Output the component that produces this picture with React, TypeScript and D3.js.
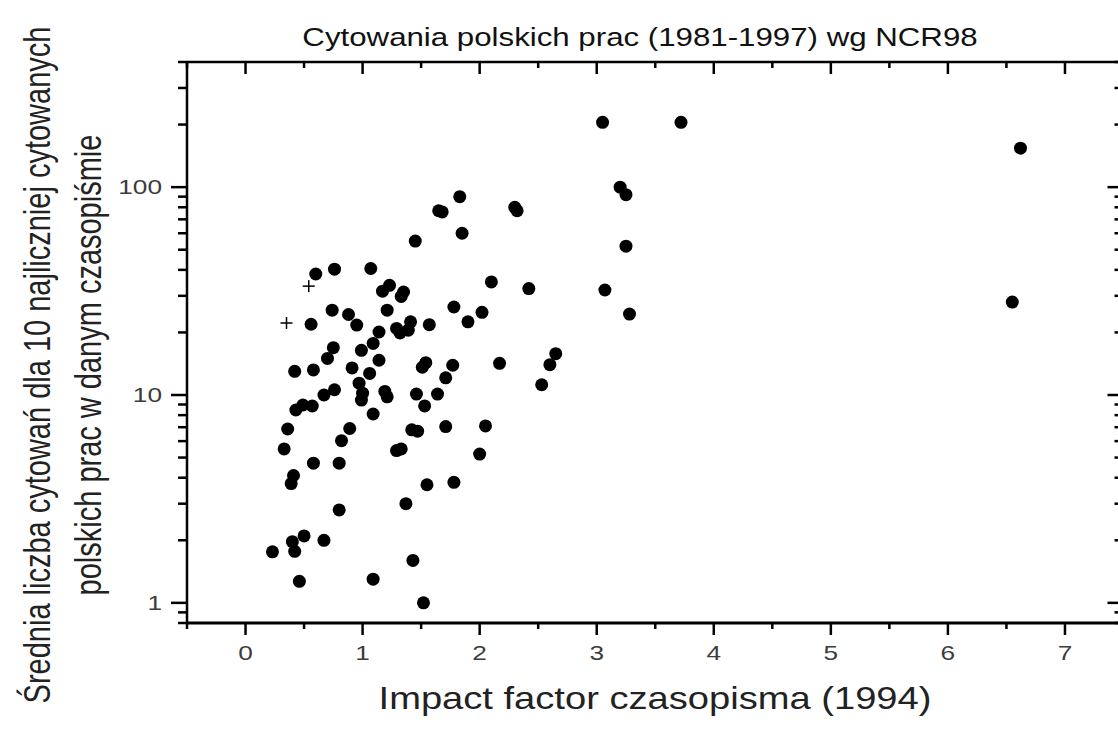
import React from 'react';
import * as d3 from 'd3';

// Impact factor (x) and mean citations (y) for journals — filled dots
const impactFactor = [
  0.60, 0.76, 1.07, 1.17, 1.23, 1.33, 1.35, 1.78, 0.74, 0.88, 1.21, 0.56, 0.95, 1.14, 1.29, 1.32, 1.41, 1.39, 1.57,
  0.75, 1.09, 0.99, 0.70, 1.14, 1.51, 1.54, 1.77, 0.42, 0.58, 0.91, 1.06, 1.71, 0.97, 0.76, 0.67, 1.00, 0.99, 1.19,
  1.21, 1.46, 1.64, 1.53, 0.43, 0.49, 0.57, 1.09, 0.36, 0.89, 1.42, 1.47, 1.71, 0.82, 0.33, 1.29, 1.33,
  1.45, 1.65, 1.68, 1.83, 1.85, 2.30, 2.32, 3.20, 3.25, 3.05, 3.72, 6.62, 3.25,
  2.10, 2.42, 3.07, 3.28, 6.55, 2.02, 1.90, 2.17, 2.65, 2.60, 2.53, 2.05, 2.00,
  0.58, 0.80, 0.41, 0.39, 1.55, 1.78, 1.37, 0.80, 0.50, 0.40, 0.42, 0.67, 0.23, 1.43, 0.46, 1.09, 1.52,
];
const citations = [
  38.2, 40.3, 40.6, 31.6, 33.7, 29.8, 31.3, 26.5, 25.6, 24.4, 25.6, 21.9, 21.7, 20.1, 20.9, 19.9, 22.5, 20.5, 21.8,
  16.9, 17.7, 16.4, 15.0, 14.7, 13.6, 14.3, 13.9, 13.0, 13.2, 13.5, 12.7, 12.1, 11.4, 10.6, 10.0, 10.2, 9.45, 10.4,
  9.8, 10.1, 10.1, 8.86, 8.47, 8.95, 8.85, 8.1, 6.86, 6.9, 6.8, 6.7, 7.05, 6.03, 5.5, 5.4, 5.5,
  55, 77, 76, 90, 60, 80, 77, 100, 92, 205, 205, 154, 52,
  35, 32.5, 32, 24.5, 28, 25, 22.5, 14.2, 15.8, 14, 11.2, 7.1, 5.2,
  4.7, 4.7, 4.1, 3.75, 3.7, 3.8, 3.0, 2.8, 2.1, 1.97, 1.77, 2.0, 1.76, 1.6, 1.27, 1.3, 1.0,
];
// Cross markers
const crossIF = [0.54, 0.35];
const crossCit = [33.4, 22.2];

const xTicks = [0, 1, 2, 3, 4, 5, 6, 7];
const yTicks = [1, 10, 100];

const title = 'Cytowania polskich prac (1981-1997) wg NCR98';
const xTitle = 'Impact factor czasopisma (1994)';
const yTitle1 = 'Średnia liczba cytowań dla 10 najliczniej cytowanych';
const yTitle2 = 'polskich prac w danym czasopiśmie';

export default function App() {
  const W = 1118, H = 738;
  const left = 187, right = 1123.5, top = 62, bottom = 623;
  const x = d3.scaleLinear().domain([-0.5, 7.5]).range([left, right]);
  const y = d3.scaleLog().domain([0.8, 400]).range([bottom, top]);

  const xMinor = d3.range(-0.5, 7.51, 0.5).filter((v) => Math.abs(v - Math.round(v)) > 0.01);
  const yMinor: number[] = [];
  [0.1, 1, 10, 100].forEach((d) => {
    for (let k = 2; k <= 9; k++) {
      const v = d * k;
      if (v >= 0.8 && v <= 400) yMinor.push(v);
    }
  });

  const font = '"Liberation Sans", Arial, Helvetica, sans-serif';
  const sw = 2.5;
  const sx = 1.25; // horizontal stretch of the scanned original

  return (
    <svg width={W} height={H} style={{ position: 'absolute', left: 0, top: 0, background: '#fff' }} fontFamily={font}>
      <rect x={0} y={0} width={W} height={H} fill="#fff" />
      {/* frame */}
      <line x1={left} x2={right} y1={bottom} y2={bottom} stroke="#000" strokeWidth={sw + 0.5} />
      <line x1={left} x2={right} y1={top} y2={top} stroke="#000" strokeWidth={sw} />
      <line x1={left} x2={left} y1={top} y2={bottom} stroke="#000" strokeWidth={sw} />
      <line x1={right} x2={right} y1={top} y2={bottom} stroke="#000" strokeWidth={sw} />

      {/* x ticks bottom (outward) & top (inward) */}
      {xTicks.map((t) => (
        <g key={'xt' + t}>
          <line x1={x(t)} x2={x(t)} y1={bottom} y2={bottom + 12} stroke="#000" strokeWidth={sw} />
          <line x1={x(t)} x2={x(t)} y1={top} y2={top + 12} stroke="#000" strokeWidth={sw} />
          <text transform={`translate(${x(t)},${bottom + 37}) scale(${sx},1)`} textAnchor="middle" fontSize={21} fill="#3c3c3c">{t}</text>
        </g>
      ))}
      {xMinor.map((t) => (
        <g key={'xm' + t}>
          <line x1={x(t)} x2={x(t)} y1={bottom} y2={bottom + 6} stroke="#000" strokeWidth={sw} />
          <line x1={x(t)} x2={x(t)} y1={top} y2={top + 6} stroke="#000" strokeWidth={sw} />
        </g>
      ))}

      {/* y ticks left (outward) & right (inward) */}
      {yTicks.map((t) => (
        <g key={'yt' + t}>
          <line x1={left - 16} x2={left} y1={y(t)} y2={y(t)} stroke="#000" strokeWidth={sw} />
          <line x1={right - 16} x2={right} y1={y(t)} y2={y(t)} stroke="#000" strokeWidth={sw} />
          <text transform={`translate(${left - 25},${y(t) + 7}) scale(${sx},1)`} textAnchor="end" fontSize={21} fill="#3c3c3c">{t}</text>
        </g>
      ))}
      {yMinor.map((t) => (
        <g key={'ym' + t}>
          <line x1={left - 9} x2={left} y1={y(t)} y2={y(t)} stroke="#000" strokeWidth={sw} />
          <line x1={right - 9} x2={right} y1={y(t)} y2={y(t)} stroke="#000" strokeWidth={sw} />
        </g>
      ))}

      {/* points */}
      {impactFactor.map((v, i) => (
        <circle key={'p' + i} cx={x(v)} cy={y(citations[i])} r={6.5} fill="#000" />
      ))}
      {crossIF.map((v, i) => (
        <g key={'c' + i} stroke="#000" strokeWidth={1.5}>
          <line x1={x(v) - 6} x2={x(v) + 6} y1={y(crossCit[i])} y2={y(crossCit[i])} />
          <line x1={x(v)} x2={x(v)} y1={y(crossCit[i]) - 6} y2={y(crossCit[i]) + 6} />
        </g>
      ))}

      {/* titles */}
      <text transform={`translate(640,46) scale(${sx},1)`} textAnchor="middle" fontSize={25} fill="#111">{title}</text>
      <text transform={`translate(655,709) scale(${sx},1)`} textAnchor="middle" fontSize={30.5} fill="#222">{xTitle}</text>
      <text transform={`translate(50,365) rotate(-90) scale(1,${sx})`} textAnchor="middle" fontSize={29} fill="#222">{yTitle1}</text>
      <text transform={`translate(101,365) rotate(-90) scale(1,${sx})`} textAnchor="middle" fontSize={29} fill="#222">{yTitle2}</text>
    </svg>
  );
}
